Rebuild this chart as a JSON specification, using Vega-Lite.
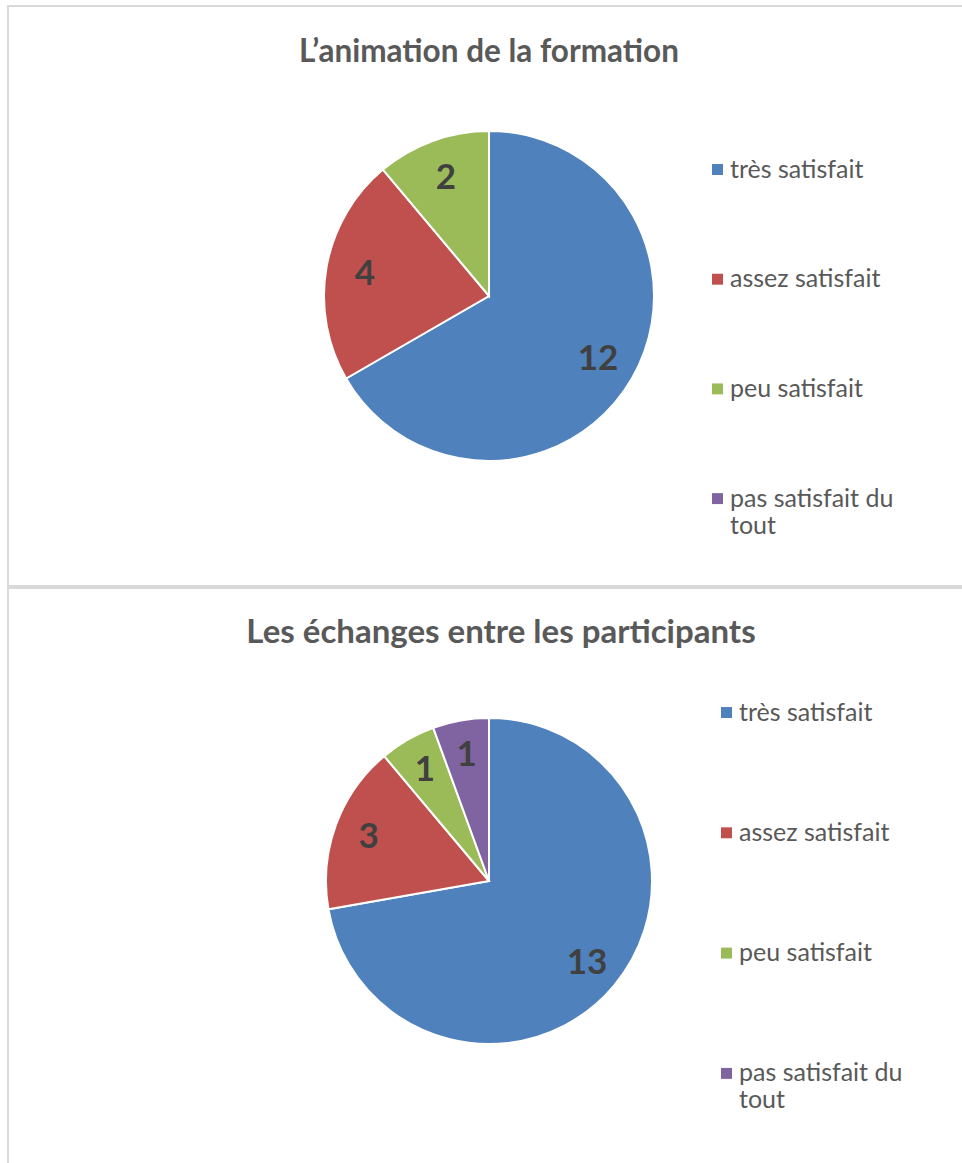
{
  "$schema": "https://vega.github.io/schema/vega-lite/v6.json",
  "padding": {"left": 7, "top": 5, "right": 0, "bottom": 0},
  "background": "white",
  "spacing": 0,
  "config": {
    "view": {"stroke": "#d9d9d9", "strokeWidth": 2},
    "font": "Lato",
    "title": {"font": "Lato", "fontWeight": "bold", "color": "#595959", "anchor": "middle"}
  },
  "datasets": {
    "animation": [
      {"reponse": "très satisfait", "n": 12, "ordre": 1},
      {"reponse": "assez satisfait", "n": 4, "ordre": 2},
      {"reponse": "peu satisfait", "n": 2, "ordre": 3}
    ],
    "echanges": [
      {"reponse": "très satisfait", "n": 13, "ordre": 1},
      {"reponse": "assez satisfait", "n": 3, "ordre": 2},
      {"reponse": "peu satisfait", "n": 1, "ordre": 3},
      {"reponse": "pas satisfait du tout", "n": 1, "ordre": 4}
    ]
  },
  "vconcat": [
    {
      "width": 962,
      "height": 580,
      "view": {"stroke": "#d9d9d9", "strokeWidth": 2, "fill": "white"},
      "title": {"text": "L’animation de la formation", "offset": -62, "fontSize": 31.5},
      "data": {"name": "animation"},
      "encoding": {
        "theta": {"field": "n", "type": "quantitative", "stack": true},
        "order": {"field": "ordre", "type": "quantitative"}
      },
      "layer": [
        {
          "mark": {"type": "arc", "outerRadius": 165, "stroke": "white", "strokeWidth": 2},
          "encoding": {
            "color": {
              "field": "reponse",
              "type": "nominal",
              "scale": {
                "domain": ["très satisfait", "assez satisfait", "peu satisfait", "pas satisfait du tout"],
                "range": ["#4F81BD", "#C0504D", "#9BBB59", "#8064A2"]
              },
              "legend": {
                "orient": "none",
                "legendX": 697,
                "legendY": 151,
                "title": null,
                "padding": 0,
                "symbolType": "square",
                "symbolSize": 120,
                "symbolStrokeWidth": 0,
                "labelFont": "Lato",
                "labelFontSize": 25,
                "labelColor": "#595959",
                "labelOffset": 0,
                "rowPadding": 83.7,
                "labelLimit": 300,
                "labelExpr": "datum.label == 'pas satisfait du tout' ? ['pas satisfait du', 'tout'] : datum.label",
                "encode": {"labels": {"update": {"lineHeight": {"value": 34}}, "lineHeight": {"value": 34}}}
              }
            }
          }
        },
        {
          "mark": {"type": "text", "radius": 126, "fontSize": 35, "fontWeight": "bold", "font": "Lato"},
          "encoding": {
            "detail": {"field": "reponse", "type": "nominal"},
            "color": {"value": "#404040"},
            "text": {"field": "n", "type": "quantitative"}
          }
        }
      ]
    },
    {
      "width": 962,
      "height": 586,
      "view": {"stroke": "#d9d9d9", "strokeWidth": 2, "fill": "white"},
      "title": {"text": "Les échanges entre les participants", "offset": -62, "dx": 12, "fontSize": 33},
      "data": {"name": "echanges"},
      "encoding": {
        "theta": {"field": "n", "type": "quantitative", "stack": true},
        "order": {"field": "ordre", "type": "quantitative"}
      },
      "layer": [
        {
          "mark": {"type": "arc", "outerRadius": 163, "stroke": "white", "strokeWidth": 2},
          "encoding": {
            "color": {
              "field": "reponse",
              "type": "nominal",
              "scale": {
                "domain": ["très satisfait", "assez satisfait", "peu satisfait", "pas satisfait du tout"],
                "range": ["#4F81BD", "#C0504D", "#9BBB59", "#8064A2"]
              },
              "legend": {
                "orient": "none",
                "legendX": 706,
                "legendY": 112,
                "title": null,
                "padding": 0,
                "symbolType": "square",
                "symbolSize": 120,
                "symbolStrokeWidth": 0,
                "labelFont": "Lato",
                "labelFontSize": 25,
                "labelColor": "#595959",
                "labelOffset": 0,
                "rowPadding": 94.3,
                "labelLimit": 300,
                "labelExpr": "datum.label == 'pas satisfait du tout' ? ['pas satisfait du', 'tout'] : datum.label",
                "encode": {"labels": {"update": {"lineHeight": {"value": 35}}, "lineHeight": {"value": 35}}}
              }
            }
          }
        },
        {
          "mark": {"type": "text", "radius": 128, "fontSize": 35, "fontWeight": "bold", "font": "Lato"},
          "encoding": {
            "detail": {"field": "reponse", "type": "nominal"},
            "color": {"value": "#404040"},
            "text": {"field": "n", "type": "quantitative"}
          }
        }
      ]
    }
  ],
  "resolve": {"scale": {"color": "independent"}}
}
